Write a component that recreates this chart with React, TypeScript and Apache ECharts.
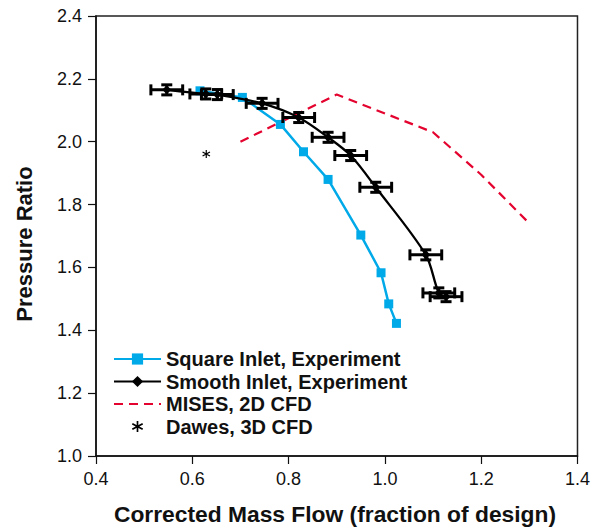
import React, { useEffect, useRef } from "react";
import * as echarts from "echarts";

const squareX = [0.616, 0.704, 0.783, 0.831, 0.882, 0.950, 0.992, 1.008, 1.024];
const squareY = [2.162, 2.141, 2.055, 1.968, 1.880, 1.703, 1.583, 1.484, 1.422];

const smoothX = [0.547, 0.628, 0.652, 0.745, 0.821, 0.882, 0.929, 0.981, 1.085, 1.112, 1.127];
const smoothY = [2.165, 2.152, 2.150, 2.122, 2.077, 2.014, 1.956, 1.855, 1.640, 1.519, 1.507];
const smoothXErr = [0.033, 0.033, 0.033, 0.033, 0.033, 0.033, 0.033, 0.033, 0.033, 0.033, 0.033];
const smoothYErr = [0.016, 0.016, 0.016, 0.016, 0.016, 0.016, 0.016, 0.016, 0.016, 0.016, 0.016];

const misesX = [0.7, 0.9, 1.1, 1.2, 1.3];
const misesY = [2.0, 2.15, 2.03, 1.895, 1.74];

const dawesX = [0.629];
const dawesY = [1.961];

const seriesNames = [
  "Square Inlet, Experiment",
  "Smooth Inlet, Experiment",
  "MISES, 2D CFD",
  "Dawes, 3D CFD",
];

const FONT = "'Liberation Sans', Arial, sans-serif";

const ASTERISK =
  "path://M4.3 0H5.7V10H4.3Z M1.02 1.894L9.68 6.894L8.98 8.106L0.32 3.106Z M0.32 6.894L8.98 1.894L9.68 3.106L1.02 8.106Z";

export default function App() {
  const ref = useRef<HTMLDivElement>(null);
  useEffect(() => {
    document.body.style.margin = "0";
    if (!ref.current) return;
    const chart = echarts.init(ref.current, undefined, { renderer: "svg" });
    const zip = (xs: number[], ys: number[]) => xs.map((x, i) => [x, ys[i]]);
    const errData = smoothX.map((x, i) => [x, smoothY[i], smoothXErr[i], smoothYErr[i]]);
    chart.setOption({
      animation: false,
      backgroundColor: "#fff",
      grid: {
        left: 96,
        right: 12,
        top: 16,
        bottom: 73,
        show: true,
        borderColor: "#222",
        borderWidth: 1.5,
      },
      xAxis: {
        type: "value",
        min: 0.4,
        max: 1.4,
        interval: 0.2,
        axisLine: { show: true, onZero: false, lineStyle: { color: "#111", width: 1.5 } },
        axisTick: { show: true, inside: false, length: 8, lineStyle: { color: "#111", width: 1.2 } },
        splitLine: { show: false },
        axisLabel: {
          margin: 14,
          color: "#111",
          fontSize: 18,
          fontFamily: FONT,
          formatter: (v: number) => v.toFixed(1),
        },
      },
      yAxis: {
        type: "value",
        min: 1.0,
        max: 2.4,
        interval: 0.2,
        axisLine: { show: true, onZero: false, lineStyle: { color: "#111", width: 1.5 } },
        axisTick: { show: true, inside: false, length: 8, lineStyle: { color: "#111", width: 1.2 } },
        splitLine: { show: false },
        axisLabel: {
          margin: 14,
          color: "#111",
          fontSize: 18,
          fontFamily: FONT,
          formatter: (v: number) => v.toFixed(1),
        },
      },
      legend: {
        data: seriesNames,
        orient: "vertical",
        left: 108,
        top: 344,
        itemWidth: 47,
        itemHeight: 14,
        itemGap: 2.5,
        textStyle: {
          fontSize: 20,
          fontWeight: "bold",
          fontFamily: FONT,
          color: "#111",
        },
      },
      graphic: [
        {
          type: "text",
          x: 24,
          y: 244,
          rotation: Math.PI / 2,
          style: {
            text: "Pressure Ratio",
            font: `bold 22px ${FONT}`,
            fill: "#111",
            textAlign: "center",
            textVerticalAlign: "middle",
          },
        },
        {
          type: "text",
          x: 335,
          y: 514,
          style: {
            text: "Corrected Mass Flow (fraction of design)",
            font: `bold 22.8px ${FONT}`,
            fill: "#111",
            textAlign: "center",
            textVerticalAlign: "middle",
          },
        },
      ],
      series: [
        {
          name: seriesNames[2],
          type: "line",
          data: zip(misesX, misesY),
          symbol: "circle",
          symbolSize: 0,
          showSymbol: false,
          lineStyle: { color: "#e4032e", width: 2.2, type: [9, 6] },
          itemStyle: { color: "#e4032e", opacity: 0 },
          z: 2,
        },
        {
          name: seriesNames[0],
          type: "line",
          data: zip(squareX, squareY),
          symbol: "rect",
          symbolSize: 9,
          lineStyle: { color: "#00a9e8", width: 2.5 },
          itemStyle: { color: "#00a9e8" },
          z: 3,
        },
        {
          name: seriesNames[1],
          type: "line",
          data: zip(smoothX, smoothY),
          smooth: 0.3,
          symbol: "diamond",
          symbolSize: 9,
          lineStyle: { color: "#000", width: 2.3 },
          itemStyle: { color: "#000" },
          z: 4,
        },
        {
          name: "errors",
          type: "custom",
          data: errData,
          encode: { x: 0, y: 1 },
          z: 5,
          renderItem: (params: any, api: any) => {
            const x = api.value(0);
            const y = api.value(1);
            const xe = api.value(2);
            const ye = api.value(3);
            const c = api.coord([x, y]);
            const l = api.coord([x - xe, y]);
            const r = api.coord([x + xe, y]);
            const t = api.coord([x, y + ye]);
            const b = api.coord([x, y - ye]);
            const cap = 5.5;
            const style = { stroke: "#000", lineWidth: 3 };
            return {
              type: "group",
              children: [
                { type: "line", shape: { x1: l[0], y1: c[1], x2: r[0], y2: c[1] }, style },
                { type: "line", shape: { x1: l[0], y1: c[1] - cap, x2: l[0], y2: c[1] + cap }, style },
                { type: "line", shape: { x1: r[0], y1: c[1] - cap, x2: r[0], y2: c[1] + cap }, style },
                { type: "line", shape: { x1: c[0], y1: t[1], x2: c[0], y2: b[1] }, style },
                { type: "line", shape: { x1: c[0] - cap, y1: t[1], x2: c[0] + cap, y2: t[1] }, style },
                { type: "line", shape: { x1: c[0] - cap, y1: b[1], x2: c[0] + cap, y2: b[1] }, style },
              ],
            };
          },
        },
        {
          name: seriesNames[3],
          type: "line",
          data: zip(dawesX, dawesY),
          symbol: ASTERISK,
          symbolSize: 8,
          lineStyle: { width: 0, opacity: 0 },
          itemStyle: { color: "#000" },
          z: 6,
        },
      ],
    });
    return () => chart.dispose();
  }, []);
  return <div ref={ref} style={{ width: 593, height: 529 }} />;
}
